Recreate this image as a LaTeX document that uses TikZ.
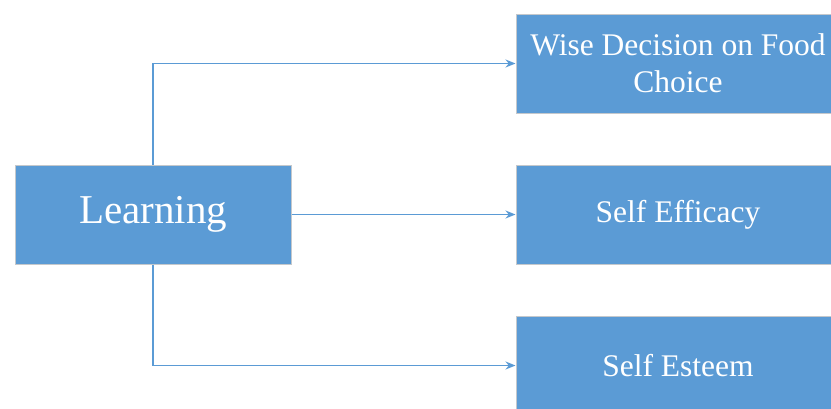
\documentclass[tikz,border=0pt]{standalone}
\usepackage{fontspec}
\setmainfont{Liberation Serif}
\usepackage{tikz}
\usetikzlibrary{arrows.meta, positioning}

\definecolor{boxblue}{HTML}{5B9BD5}
\definecolor{boxedge}{HTML}{C4C8CC}

\begin{document}
\begin{tikzpicture}[
    x=1pt, y=1pt,
    box/.style={draw=boxedge, line width=1pt, fill=boxblue, text=white, align=center, inner sep=0pt},
    small/.style={box, minimum width=324pt, minimum height=99pt, font=\fontsize{31.5}{37}\selectfont},
    arrow/.style={-{Stealth[length=10pt, width=8pt]}, draw=boxblue, line width=1.5pt}
]
    \useasboundingbox (0,0) rectangle (831,-408);
    \fill[white] (0,0) rectangle (831,-408);

    \node[box, minimum width=276pt, minimum height=99pt, font=\fontsize{41}{48}\selectfont] (learning) at (153,-214.5) {Learning};
    \node[small, right=224pt of learning] (efficacy) {Self Efficacy};
    \node[small, above=51pt of efficacy] (decision) {Wise Decision on Food\\Choice};
    \node[small, below=51pt of efficacy] (esteem) {Self Esteem};

    \draw[arrow] (learning.north) |- (decision.west);
    \draw[arrow] (learning) -- (efficacy);
    \draw[arrow] (learning.south) |- (esteem.west);
\end{tikzpicture}
\end{document}
